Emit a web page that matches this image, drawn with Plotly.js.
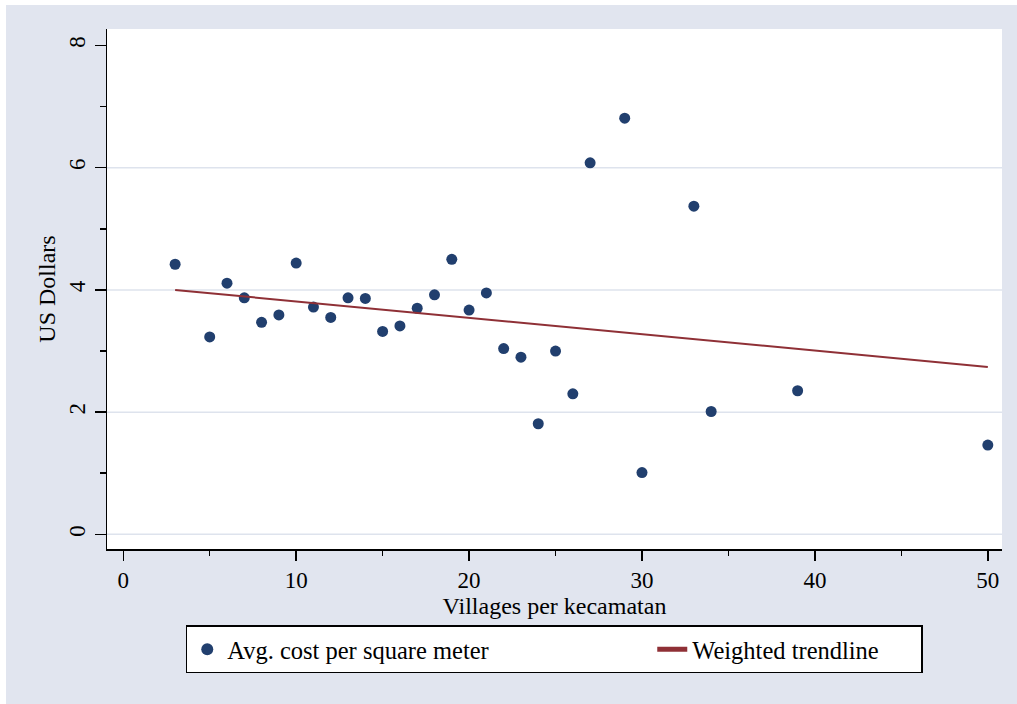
<!DOCTYPE html>
<html>
<head>
<meta charset="utf-8">
<script src="https://cdn.plot.ly/plotly-3.0.1.min.js"></script>
<style>
  html, body { margin: 0; padding: 0; background: #ffffff; }
  #chart { position: absolute; left: 6px; top: 5px; width: 1011px; height: 699px; }
</style>
</head>
<body>
<div id="chart"></div>
<script>
// Villages per kecamatan
const villages = [3, 5, 6, 7, 8, 9, 10, 11, 12, 13, 14, 15, 16, 17, 18, 19, 20, 21, 22, 23, 24, 25, 26, 27, 29, 30, 33, 34, 39, 50];
// Avg. cost per square meter (US Dollars)
const avgCost = [4.42, 3.23, 4.11, 3.87, 3.47, 3.59, 4.44, 3.72, 3.55, 3.87, 3.86, 3.32, 3.41, 3.70, 3.92, 4.50, 3.67, 3.95, 3.04, 2.90, 1.81, 3.00, 2.30, 6.08, 6.81, 1.01, 5.37, 2.01, 2.35, 1.46];
// Weighted trendline end points
const trendX = [3, 50];
const trendY = [4.00, 2.74];
// Axis ticks
const xTicks = [0, 10, 20, 30, 40, 50];
const xMinor = [5, 15, 25, 35, 45];
const yTicks = [0, 2, 4, 6, 8];
const yMinor = [1, 3, 5, 7];
const yGrid = [0, 2, 4, 6];

const FONT = 'Liberation Serif, Times New Roman, serif';
const navy = '#213f6e';
const maroon = '#8f3036';
const gridColor = '#dee3ed';

const traces = [
  {
    type: 'scatter', mode: 'markers', x: villages, y: avgCost,
    name: 'Avg. cost per square meter',
    marker: { color: navy, size: 11, line: { width: 0 } },
    legendwidth: 420,
    hoverinfo: 'x+y'
  },
  {
    type: 'scatter', mode: 'lines', x: trendX, y: trendY,
    name: 'Weighted trendline',
    line: { color: maroon, width: 2 },
    legendwidth: 224,
    hoverinfo: 'x+y'
  }
];

const shapes = yGrid.map(v => ({
  type: 'line', xref: 'paper', yref: 'y', x0: 0, x1: 1, y0: v, y1: v,
  line: { color: gridColor, width: 1.5 }, layer: 'below'
}));

const layout = {
  width: 1011, height: 699,
  margin: { l: 101, r: 15, t: 24, b: 155, pad: 0 },
  paper_bgcolor: '#e1e5ef',
  plot_bgcolor: '#ffffff',
  font: { family: FONT, size: 23, color: '#000000' },
  showlegend: true,
  xaxis: {
    range: [-0.94, 50.82],
    tickmode: 'array', tickvals: xTicks, ticktext: xTicks.map(String),
    ticks: 'outside', ticklen: 10, tickwidth: 1.5, tickcolor: '#000',
    minor: { tickmode: 'array', tickvals: xMinor, ticks: 'outside', ticklen: 5, tickwidth: 1.5, tickcolor: '#000', showgrid: false },
    showline: true, linecolor: '#000', linewidth: 1.5,
    showgrid: false, zeroline: false,
    tickfont: { family: FONT, size: 23, color: '#000' },
    title: { text: 'Villages per kecamatan', font: { family: FONT, size: 24, color: '#000' }, standoff: 3 }
  },
  yaxis: {
    range: [-0.24, 8.27],
    tickmode: 'array', tickvals: yTicks, ticktext: yTicks.map(String),
    ticks: 'outside', ticklen: 11, tickwidth: 1.5, tickcolor: '#000',
    minor: { tickmode: 'array', tickvals: yMinor, ticks: 'outside', ticklen: 6, tickwidth: 1.5, tickcolor: '#000', showgrid: false },
    tickangle: -90,
    showline: true, linecolor: '#000', linewidth: 1.5,
    showgrid: false, zeroline: false,
    tickfont: { family: FONT, size: 23, color: '#000' },
    title: { text: 'US Dollars', font: { family: FONT, size: 24, color: '#000' }, standoff: 3 }
  },
  legend: {
    orientation: 'h', x: 0.088, xanchor: 'left', y: -0.147, yanchor: 'top',
    bgcolor: '#ffffff', bordercolor: '#000000', borderwidth: 1.5,
    font: { family: FONT, size: 24.5, color: '#000' },
    itemsizing: 'constant'
  },
  shapes: shapes
};

Plotly.newPlot('chart', traces, layout, { displayModeBar: false, staticPlot: true });
</script>
</body>
</html>
